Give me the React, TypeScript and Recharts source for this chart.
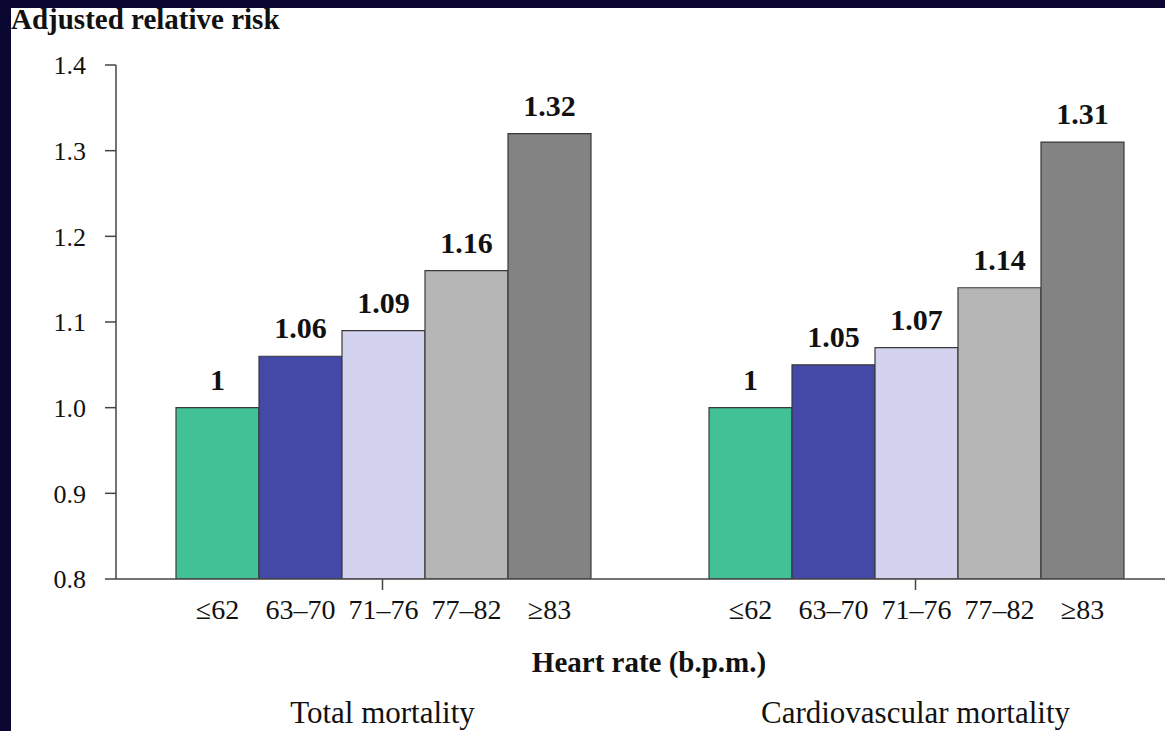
import { BarChart, Bar, XAxis, YAxis, LabelList, Label } from "recharts";

const groups = ["Total mortality", "Cardiovascular mortality"];
const hrBands = ["≤62", "63–70", "71–76", "77–82", "≥83"];
const totalRisk = [1, 1.06, 1.09, 1.16, 1.32];
const cvRisk = [1, 1.05, 1.07, 1.14, 1.31];
const yTicks = [0.8, 0.9, 1.0, 1.1, 1.2, 1.3, 1.4];
const barColors = ["#41c195", "#4448a6", "#d3d3ef", "#b6b6b6", "#838383"];

const series = [totalRisk, cvRisk];
const data = groups.map((g, gi) => {
    const row: Record<string, string | number> = { group: g };
    hrBands.forEach((_, bi) => {
        row[`b${bi}`] = series[gi][bi];
    });
    return row;
});

const serif = "'Liberation Serif', 'Times New Roman', serif";
const ink = "#111";
const axisColor = "#444";

const GroupTick = (props: any) => {
    const { x, y, payload } = props;
    return (
        <text x={x} y={y + 131} textAnchor="middle" fontSize={31} fontFamily={serif} fill={ink}>
            {payload.value}
        </text>
    );
};

export default function App() {
    return (
        <div
            style={{
                position: "fixed",
                left: 0,
                top: 0,
                width: 1165,
                height: 731,
                overflow: "hidden",
                background: "#0a0833",
            }}
        >
            <div style={{ position: "absolute", left: 11, top: 8, right: 0, bottom: 0, background: "#fff" }} />
            <div
                style={{
                    position: "absolute",
                    left: 11,
                    top: 5,
                    fontFamily: serif,
                    fontWeight: "bold",
                    fontSize: 29,
                    lineHeight: 1,
                    color: ink,
                    whiteSpace: "nowrap",
                }}
            >
                Adjusted relative risk
            </div>
            <div style={{ position: "absolute", left: 0, top: 0 }}>
                <BarChart
                    width={1200}
                    height={731}
                    data={data}
                    margin={{ top: 65, right: 18, bottom: 0, left: 36 }}
                    barCategoryGap={60}
                    barGap={0}
                >
                    <XAxis
                        xAxisId="edges"
                        type="number"
                        domain={[0, 2]}
                        ticks={[0, 1, 2]}
                        allowDataOverflow
                        tick={false}
                        axisLine={false}
                        tickSize={11}
                        tickLine={{ stroke: axisColor, strokeWidth: 1.5 }}
                        height={0}
                    />
                    <XAxis
                        dataKey="group"
                        height={152}
                        tickSize={11}
                        tickLine={{ stroke: axisColor, strokeWidth: 1.5 }}
                        axisLine={{ stroke: axisColor, strokeWidth: 1.5 }}
                        tick={<GroupTick />}
                        interval={0}
                    >
                        <Label
                            value="Heart rate (b.p.m.)"
                            position="insideTop"
                            offset={72}
                            fontSize={29}
                            fontWeight="bold"
                            fontFamily={serif}
                            fill={ink}
                        />
                    </XAxis>
                    <YAxis
                        width={80}
                        domain={[0.8, 1.4]}
                        ticks={yTicks}
                        allowDataOverflow
                        tickSize={11}
                        tickMargin={19}
                        tickFormatter={(v: number) => v.toFixed(1)}
                        tick={{ fontSize: 26, fontFamily: serif, fill: ink }}
                        tickLine={{ stroke: axisColor, strokeWidth: 1.5 }}
                        axisLine={{ stroke: axisColor, strokeWidth: 1.5 }}
                    />
                    {hrBands.map((hr, bi) => (
                        <Bar
                            key={hr}
                            dataKey={`b${bi}`}
                            fill={barColors[bi]}
                            stroke="#3a3a3a"
                            strokeWidth={1.2}
                            isAnimationActive={false}
                        >
                            <LabelList
                                position="top"
                                offset={18}
                                fontSize={30}
                                fontWeight="bold"
                                fontFamily={serif}
                                fill={ink}
                                stroke="none"
                            />
                            <LabelList
                                position="bottom"
                                offset={20}
                                formatter={() => hr}
                                fontSize={28}
                                fontFamily={serif}
                                fill={ink}
                                stroke="none"
                            />
                        </Bar>
                    ))}
                </BarChart>
            </div>
        </div>
    );
}
